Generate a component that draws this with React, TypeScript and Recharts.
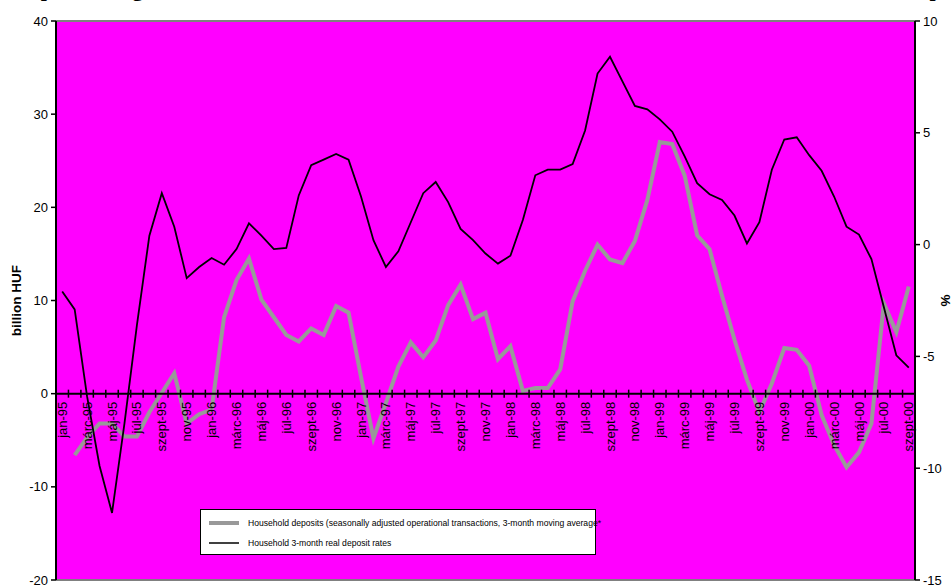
import { ComposedChart, Line, XAxis, YAxis, CartesianGrid, ReferenceLine, Legend } from "recharts";

// monthly categories, jan-95 .. szept-00
const monthNames = ["jan", "febr", "márc", "ápr", "máj", "jún", "júl", "aug", "szept", "okt", "nov", "dec"];
const years = ["95", "96", "97", "98", "99", "00"];
const months: string[] = [];
years.forEach((y) => {
  monthNames.forEach((m) => {
    if (months.length < 69) months.push(`${m}-${y}`);
  });
});

// billion HUF, left axis
const deposits: (number | null)[] = [
  null, -6.6, -4.7, -3.2, -3.2, -4.6, -4.6, -2.0, 0.1, 2.2, -3.2, -2.2,
  -1.7, 8.2, 12.2, 14.5, 10.1, 8.2, 6.3, 5.6, 7.0, 6.3, 9.4, 8.7,
  1.8, -4.8, -1.0, 2.9, 5.5, 3.9, 5.7, 9.5, 11.7, 8.0, 8.7, 3.7,
  5.1, 0.3, 0.6, 0.6, 2.6, 9.9, 13.2, 16.0, 14.4, 14.0, 16.4, 20.8,
  27.0, 26.8, 23.4, 17.0, 15.5, 10.5, 5.8, 1.5, -2.0, 1.1, 4.9, 4.7,
  3.0, -2.3, -5.5, -7.9, -6.3, -3.2, 9.7, 6.6, 11.5,
];

// %, right axis
const realRates: number[] = [
  -2.1, -2.9, -6.8, -9.9, -12.0, -8.0, -3.6, 0.4, 2.3, 0.8, -1.5, -1.0,
  -0.6, -0.9, -0.2, 0.95, 0.4, -0.2, -0.15, 2.2, 3.55, 3.8, 4.05, 3.8,
  2.15, 0.2, -1.0, -0.3, 1.0, 2.3, 2.8, 1.9, 0.7, 0.2, -0.4, -0.85,
  -0.5, 1.1, 3.1, 3.35, 3.35, 3.6, 5.1, 7.65, 8.4, 7.3, 6.2, 6.05,
  5.6, 5.05, 3.95, 2.75, 2.25, 2.0, 1.3, 0.05, 1.0, 3.35, 4.7, 4.8,
  4.0, 3.3, 2.15, 0.8, 0.45, -0.65, -2.8, -4.95, -5.5,
];

const leftTicks = [-20, -10, 0, 10, 20, 30, 40];
const rightTicks = [-15, -10, -5, 0, 5, 10];

const data = months.map((m, i) => ({ m, dep: deposits[i], rate: realRates[i] }));

const W = 951;
const H = 585;
const LEFT_W = 56;
const RIGHT_W = 36;
const TOP = 21;
const BOTTOM = 4;
const X_H = 1;
const PLOT_W = W - LEFT_W - RIGHT_W;
const PLOT_H = H - TOP - BOTTOM - X_H;
const ZERO_Y = TOP + (PLOT_H * 40) / 60; // category axis crosses at 0 billion HUF
const BAND = PLOT_W / months.length;
const FONT = "'Liberation Sans', Arial, sans-serif";

function CatTick(props: any) {
  const { x, index, payload } = props;
  const bx = x + BAND / 2;
  return (
    <g>
      <line x1={bx} x2={bx} y1={ZERO_Y - 4} y2={ZERO_Y + 4} stroke="#000" strokeWidth={1.5} />
      {index === 0 && (
        <line x1={x - BAND / 2} x2={x - BAND / 2} y1={ZERO_Y - 4} y2={ZERO_Y + 4} stroke="#000" strokeWidth={1.5} />
      )}
      {index % 2 === 0 && (
        <text
          transform={`translate(${x},${ZERO_Y + 8}) rotate(-90)`}
          textAnchor="end"
          dy="0.35em"
          fontSize={13}
          fontFamily={FONT}
          fill="#000"
        >
          {payload.value}
        </text>
      )}
    </g>
  );
}

function LeftTitle(props: any) {
  const vb = props.viewBox || { x: 0, y: TOP, width: LEFT_W, height: PLOT_H };
  const cx = vb.x + 16;
  const cy = vb.y + vb.height / 2;
  return (
    <text transform={`translate(${cx},${cy}) rotate(-90)`} textAnchor="middle" dy="0.35em"
      fontSize={13.5} fontWeight="bold" fontFamily={FONT} fill="#000">
      billion HUF
    </text>
  );
}

function RightTitle(props: any) {
  const vb = props.viewBox || { x: W - RIGHT_W, y: TOP, width: RIGHT_W, height: PLOT_H };
  const cx = vb.x + 30;
  const cy = vb.y + vb.height / 2;
  return (
    <text transform={`translate(${cx},${cy}) rotate(-90)`} textAnchor="middle" dy="0.35em"
      fontSize={13.5} fontWeight="bold" fontFamily={FONT} fill="#000">
      %
    </text>
  );
}

function LegendRow({ top, color, width, text }: { top: number; color: string; width: number; text: string }) {
  return (
    <div style={{ position: "absolute", left: 8, top, height: 14, display: "flex", alignItems: "center", whiteSpace: "nowrap" }}>
      <svg width={30} height={14} style={{ marginRight: 9 }}>
        <line x1={0} x2={30} y1={7} y2={7} stroke={color} strokeWidth={width} />
      </svg>
      <span>{text}</span>
    </div>
  );
}

function LegendBox() {
  return (
    <div
      style={{
        position: "relative",
        width: 396,
        height: 46,
        boxSizing: "border-box",
        border: "1px solid #000",
        background: "#fff",
        fontFamily: FONT,
        fontSize: 8.6,
        color: "#000",
      }}
    >
      <LegendRow top={6} color="#999999" width={4} text="Household deposits (seasonally adjusted operational transactions, 3-month moving average*" />
      <LegendRow top={26} color="#000" width={1.5} text="Household 3-month real deposit rates" />
    </div>
  );
}

export default function App() {
  return (
    <div style={{ position: "absolute", left: 0, top: 0, width: W, height: H, overflow: "hidden", background: "#fff" }}>
      <div
        style={{
          position: "absolute",
          left: 15,
          top: -22,
          fontFamily: "'Liberation Serif', 'Times New Roman', serif",
          fontWeight: "bold",
          fontSize: 22,
          whiteSpace: "nowrap",
          lineHeight: "22px",
        }}
      >
        Deposit and growth of household financial assets and the three-month real interest rates on the deposits
      </div>
      <ComposedChart width={W} height={H} data={data} margin={{ top: TOP, right: 0, bottom: BOTTOM, left: 0 }}>
        <CartesianGrid fill="#ff00ff" horizontal={false} vertical={false} yAxisId="l" />
        <XAxis
          dataKey="m"
          scale="band"
          height={X_H}
          interval={0}
          axisLine={false}
          tickLine={false}
          tick={<CatTick />}
        />
        <YAxis
          yAxisId="l"
          width={LEFT_W}
          domain={[-20, 40]}
          ticks={leftTicks}
          interval={0}
          axisLine={{ stroke: "#000", strokeWidth: 2 }}
          tickLine={{ stroke: "#000", strokeWidth: 1.5 }}
          tickSize={5}
          tickMargin={3}
          tick={{ fill: "#000", fontSize: 13, fontFamily: FONT }}
          label={<LeftTitle />}
        />
        <YAxis
          yAxisId="r"
          orientation="right"
          width={RIGHT_W}
          domain={[-15, 10]}
          ticks={rightTicks}
          interval={0}
          axisLine={{ stroke: "#000", strokeWidth: 2 }}
          tickLine={{ stroke: "#000", strokeWidth: 1.5 }}
          tickSize={5}
          tickMargin={3}
          tick={{ fill: "#000", fontSize: 13, fontFamily: FONT }}
          label={<RightTitle />}
        />
        <ReferenceLine yAxisId="l" y={40} stroke="#808080" strokeWidth={2} />
        <ReferenceLine yAxisId="l" y={-20} stroke="#808080" strokeWidth={2} />
        <Line
          yAxisId="l"
          dataKey="dep"
          stroke="#999999"
          strokeWidth={4}
          dot={false}
          activeDot={false}
          isAnimationActive={false}
        />
        <Line
          yAxisId="r"
          dataKey="rate"
          stroke="#000"
          strokeWidth={1.8}
          dot={false}
          activeDot={false}
          isAnimationActive={false}
        />
        <ReferenceLine yAxisId="l" y={0} stroke="#000" strokeWidth={2} />
        <Legend
          layout="horizontal"
          verticalAlign="middle"
          align="center"
          content={<LegendBox />}
          wrapperStyle={{ left: 200, top: 509, width: 396, height: 46 }}
        />
      </ComposedChart>
    </div>
  );
}
